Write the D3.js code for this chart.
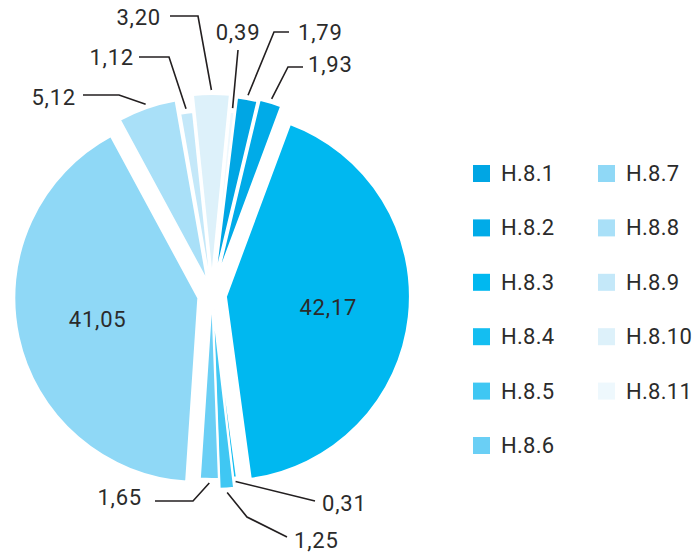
<!DOCTYPE html>
<html>
<head>
<meta charset="utf-8">
<script src="https://cdn.jsdelivr.net/npm/d3@7/dist/d3.min.js"></script>
<style>
  html, body { margin: 0; padding: 0; background: #ffffff; }
  svg { display: block; }
  text { font-family: Roboto, "Noto Sans", sans-serif; fill: #2b2b2b; }
</style>
</head>
<body>
<svg id="chart" width="695" height="556"></svg>
<script>
// ---- data ----
const categories = ["H.8.1","H.8.2","H.8.3","H.8.4","H.8.5","H.8.6","H.8.7","H.8.8","H.8.9","H.8.10","H.8.11"];
const values     = [1.79, 1.93, 42.17, 0.31, 1.25, 1.65, 41.05, 5.12, 1.12, 3.20, 0.39];
const valueLabels = ["1,79","1,93","42,17","0,31","1,25","1,65","41,05","5,12","1,12","3,20","0,39"];

// ---- styling / layout ----
const colors = ["#00a6e4","#00abe8","#00b8f0","#14bef1","#3fc7f3","#6acff5","#8fd8f6","#a9e0f8","#c4e8f9","#ddf1fa","#eef8fd"];
const explode = [15, 17, 14, 0, 10, 0, 14, 14, 0, 17, 0];
const cx = 212, cy = 295, R = 184;
const startDeg = 7;

// leader layouts for outside labels (elbow, end, text pos, anchor); null = inside label
const labelLayout = [
  {elbow:[274,32], end:[289,32], text:[298,32], anchor:"start"},
  {elbow:[288,67], end:[303,67], text:[308,64], anchor:"start"},
  null,
  {elbow:null, end:[315,501], text:[322,503], anchor:"start"},
  {elbow:[247,517], end:[287,537], text:[294,540], anchor:"start"},
  {elbow:[193,501], end:[155,501], text:[142,497], anchor:"end"},
  null,
  {elbow:[119,95], end:[83,95], text:[76,97], anchor:"end"},
  {elbow:[169,57], end:[139,57], text:[134,57], anchor:"end"},
  {elbow:[198,16], end:[170,16], text:[161,17], anchor:"end"},
  {elbow:null, end:[238,50], text:[238,32], anchor:"middle"}
];

const data = categories.map((c, i) => ({cat: c, value: values[i], label: valueLabels[i], i}));

const svg = d3.select("#chart");
const color = d3.scaleOrdinal().domain(categories).range(colors);

const s0 = startDeg * Math.PI / 180;
const pie = d3.pie().value(d => d.value).sort(null).startAngle(s0).endAngle(s0 + 2 * Math.PI);
const arc = d3.arc().innerRadius(0).outerRadius(R);
const arcs = pie(data);

const g = svg.append("g").attr("transform", `translate(${cx},${cy})`);

function offset(a, e) {
  const m = (a.startAngle + a.endAngle) / 2;
  return [Math.sin(m) * e, -Math.cos(m) * e];
}

g.selectAll("path.slice")
  .data(arcs)
  .join("path")
  .attr("class", "slice")
  .attr("d", arc)
  .attr("fill", d => color(d.data.cat))
  .attr("stroke", "#ffffff")
  .attr("stroke-width", 2)
  .attr("stroke-linejoin", "miter")
  .attr("transform", d => {
    const [dx, dy] = offset(d, explode[d.data.i]);
    return `translate(${dx},${dy})`;
  });

// inside labels for big slices
arcs.forEach(d => {
  if (labelLayout[d.data.i]) return;
  const m = (d.startAngle + d.endAngle) / 2;
  const e = explode[d.data.i];
  const r = R * 0.56 + e;
  g.append("text")
    .attr("x", Math.sin(m) * r)
    .attr("y", -Math.cos(m) * r)
    .attr("text-anchor", "middle")
    .attr("dominant-baseline", "central")
    .attr("font-size", 22)
    .attr("letter-spacing", 0.8)
    .text(d.data.label);
});

// outside labels with leader lines
const lg = svg.append("g");
arcs.forEach(d => {
  const L = labelLayout[d.data.i];
  if (!L) return;
  const m = (d.startAngle + d.endAngle) / 2;
  const e = explode[d.data.i];
  const r0 = R + e + 4;
  const p0 = [cx + Math.sin(m) * r0, cy - Math.cos(m) * r0];
  const pts = [p0];
  if (L.elbow) pts.push(L.elbow);
  pts.push(L.end);
  lg.append("path")
    .attr("d", d3.line()(pts))
    .attr("fill", "none")
    .attr("stroke", "#231f20")
    .attr("stroke-width", 1.6);
  lg.append("text")
    .attr("x", L.text[0])
    .attr("y", L.text[1])
    .attr("text-anchor", L.anchor)
    .attr("dominant-baseline", "central")
    .attr("font-size", 22)
    .attr("letter-spacing", 0.8)
    .text(d.data.label);
});

// legend
const legX = [473, 598], legY0 = 173.5, legDy = 54.4, sq = 17;
const leg = svg.append("g");
categories.forEach((c, i) => {
  const col = i < 6 ? 0 : 1;
  const row = i < 6 ? i : i - 6;
  const y = legY0 + row * legDy;
  leg.append("rect")
    .attr("x", legX[col]).attr("y", y - sq / 2)
    .attr("width", sq).attr("height", sq)
    .attr("fill", color(c));
  leg.append("text")
    .attr("x", legX[col] + 28).attr("y", y)
    .attr("dominant-baseline", "central")
    .attr("font-size", 22)
    .attr("letter-spacing", 0.3)
    .text(c);
});
</script>
</body>
</html>
